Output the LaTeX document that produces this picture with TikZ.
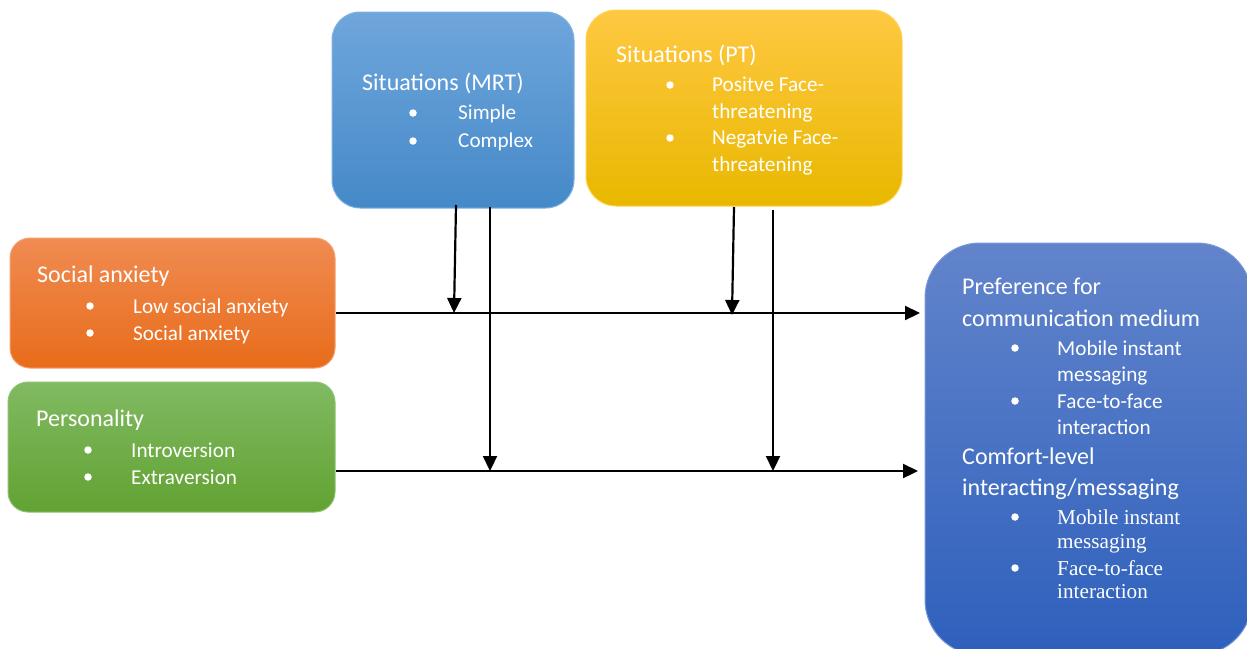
\documentclass[tikz,border=0pt]{standalone}
\usepackage{fontspec}
\setmainfont{Carlito}
\newfontfamily\serifb{Liberation Serif}
\usetikzlibrary{arrows.meta}
\definecolor{mrtT}{HTML}{6FA6DC}\definecolor{mrtB}{HTML}{4589C8}\definecolor{mrtD}{HTML}{80B2E2}
\definecolor{ptT}{HTML}{FFC842}\definecolor{ptB}{HTML}{E8B800}\definecolor{ptD}{HTML}{FFD24F}
\definecolor{saT}{HTML}{F08B52}\definecolor{saB}{HTML}{E86C1A}\definecolor{saD}{HTML}{F4A070}
\definecolor{peT}{HTML}{80BA62}\definecolor{peB}{HTML}{62A232}\definecolor{peD}{HTML}{8DC370}
\definecolor{prT}{HTML}{6284CB}\definecolor{prB}{HTML}{2E60BC}\definecolor{prD}{HTML}{7A98D5}
\begin{document}
\begin{tikzpicture}[x=1pt,y=-1pt,
  box/.style={draw, line width=1pt, inner sep=0pt},
  ttl/.style={anchor=base west, text=white, inner sep=0pt, font=\fontsize{24}{28}\selectfont},
  itm/.style={anchor=base west, text=white, inner sep=0pt, font=\fontsize{21.2}{25}\selectfont},
  sitm/.style={anchor=base west, text=white, inner sep=0pt, font=\serifb\fontsize{21.2}{25}\selectfont},
  bul/.style={circle, fill=white, inner sep=0pt, minimum size=7.5pt},
  arr/.style={line width=2.2pt, -{Triangle[length=15pt,width=14pt]}},
  ln/.style={line width=2pt}]
\useasboundingbox (0,0) rectangle (1247,648);
\clip (0,0) rectangle (1247,648);
\fill[white] (0,0) rectangle (1247,648);
% boxes
\node[box, rounded corners=28pt, draw=mrtD, top color=mrtT, bottom color=mrtB, minimum width=242pt, minimum height=196pt] (mrt) at (453,110) {};
\node[box, rounded corners=30pt, draw=ptD, top color=ptT, bottom color=ptB, minimum width=316pt, minimum height=196pt] (pt) at (744,108) {};
\node[box, rounded corners=20pt, draw=saD, top color=saT, bottom color=saB, minimum width=325pt, minimum height=130pt] (sa) at (172.5,303) {};
\node[box, rounded corners=20pt, draw=peD, top color=peT, bottom color=peB, minimum width=327pt, minimum height=130pt] (pe) at (171.5,447) {};
\node[box, rounded corners=55pt, draw=prD, top color=prT, bottom color=prB, minimum width=327pt, minimum height=412pt] (pr) at (1088.5,449) {};
% MRT text
\node[ttl] (mrt0) at (362,90) {Situations (MRT)};
\node[bul] (mrtb1) at (413,113) {};
\node[itm] (mrt1) at (458,119) {Simple};
\node[bul] (mrtb2) at (413,141) {};
\node[itm] (mrt2) at (458,147) {Complex};
% PT text
\node[ttl] (pt0) at (616,62) {Situations (PT)};
\node[bul] (ptb1) at (670,85) {};
\node[itm] (pt1) at (712,91) {Positve Face-};
\node[itm] (pt2) at (712,118) {threatening};
\node[bul] (ptb2) at (670,138) {};
\node[itm] (pt3) at (712,144) {Negatvie Face-};
\node[itm] (pt4) at (712,171) {threatening};
% Social anxiety
\node[ttl] (sa0) at (37,282) {Social anxiety};
\node[bul] (sab1) at (90,306) {};
\node[itm] (sa1) at (133,313) {Low social anxiety};
\node[bul] (sab2) at (90,333) {};
\node[itm] (sa2) at (133,340) {Social anxiety};
% Personality
\node[ttl] (pe0) at (36,426) {Personality};
\node[bul] (peb1) at (88,450) {};
\node[itm] (pe1) at (131,457) {Introversion};
\node[bul] (peb2) at (88,477) {};
\node[itm] (pe2) at (131,484) {Extraversion};
% Preference
\node[ttl] (pr0) at (962,294) {Preference for};
\node[ttl] (pr1) at (962,326) {communication medium};
\node[bul] (prb1) at (1015,348) {};
\node[itm] (pr2) at (1057,355) {Mobile instant};
\node[itm] (pr3) at (1057,381) {messaging};
\node[bul] (prb2) at (1015,401) {};
\node[itm] (pr4) at (1057,408) {Face-to-face};
\node[itm] (pr5) at (1057,434) {interaction};
\node[ttl] (pr6) at (962,464) {Comfort-level};
\node[ttl] (pr7) at (962,495) {interacting/messaging};
\node[bul] (prb3) at (1015,517) {};
\node[sitm] (pr8) at (1057,524) {Mobile instant};
\node[sitm] (pr9) at (1057,548) {messaging};
\node[bul] (prb4) at (1015,568) {};
\node[sitm] (pr10) at (1057,575) {Face-to-face};
\node[sitm] (pr11) at (1057,598) {interaction};
% connectors
\coordinate (h1s) at (336,313);
\coordinate (h1e) at (920,313);
\coordinate (h2s) at (336,471);
\coordinate (h2e) at (918,471);
\coordinate (v1s) at (456,205);
\coordinate (v1e) at (454,313);
\coordinate (v2s) at (490,207);
\coordinate (v2e) at (490,471);
\coordinate (v3s) at (734,207);
\coordinate (v3e) at (732,315);
\coordinate (v4s) at (773,210);
\coordinate (v4e) at (773,471);
\draw[arr] (h1s) -- (h1e);
\draw[arr] (h2s) -- (h2e);
\draw[arr] (v1s) -- (v1e);
\draw[arr] (v2s) -- (v2e);
\draw[arr] (v3s) -- (v3e);
\draw[arr] (v4s) -- (v4e);
\end{tikzpicture}
\end{document}
